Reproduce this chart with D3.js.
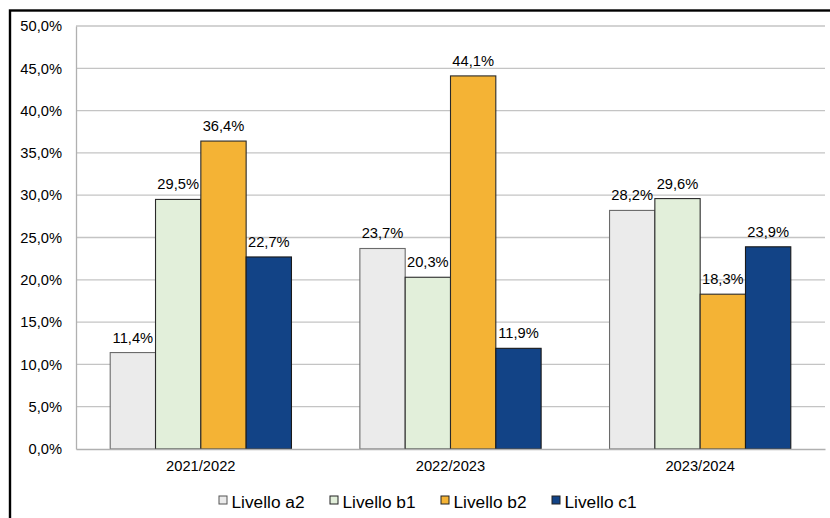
<!DOCTYPE html>
<html><head><meta charset="utf-8">
<script src="https://cdn.jsdelivr.net/npm/d3@7"></script>
<style>body{margin:0;background:#fff}svg{display:block}text{font-family:"Liberation Sans",Arial,sans-serif;fill:#000}</style>
</head><body>
<svg id="c" width="830" height="518"></svg>
<script>
const categories = ["2021/2022", "2022/2023", "2023/2024"];
const seriesNames = ["Livello a2", "Livello b1", "Livello b2", "Livello c1"];
const livelloA2 = [11.4, 23.7, 28.2];
const livelloB1 = [29.5, 20.3, 29.6];
const livelloB2 = [36.4, 44.1, 18.3];
const livelloC1 = [22.7, 11.9, 23.9];
const yTicks = [0, 5, 10, 15, 20, 25, 30, 35, 40, 45, 50];
const colors = ["#ebebeb", "#e2efda", "#f4b335", "#124386"];
const strokes = ["#6b6b6b", "#2a2a2a", "#2a2a2a", "#1a1a1a"];

const seriesValues = [livelloA2, livelloB1, livelloB2, livelloC1];
const fmt = v => v.toFixed(1).replace(".", ",") + "%";

const svg = d3.select("#c");
const L = 76, R = 825, T = 26, B = 449;

// outer frame
svg.append("rect").attr("x", 10).attr("y", 10.5).attr("width", 1000).attr("height", 1000)
  .attr("fill", "none").attr("stroke", "#000").attr("stroke-width", 2.4);

const x0 = d3.scaleBand().domain(categories).range([L, R]).paddingInner(0.274).paddingOuter(0.137);
const x1 = d3.scaleBand().domain(seriesNames).range([0, x0.bandwidth()]);
const y = d3.scaleLinear().domain([0, 50]).range([B, T]);

// gridlines
svg.append("g").selectAll("line").data(yTicks.filter(t => t > 0)).join("line")
  .attr("x1", L).attr("x2", R).attr("y1", d => y(d)).attr("y2", d => y(d))
  .attr("stroke", "#c4c4c4").attr("stroke-width", 1.3);

// y axis
const yAxis = d3.axisLeft(y).tickValues(yTicks).tickSize(0).tickPadding(14)
  .tickFormat(d => d.toFixed(1).replace(".", ",") + "%");
const ya = svg.append("g").attr("transform", `translate(${L},0)`).call(yAxis);
ya.select(".domain").attr("stroke", "#b0b0b0").attr("stroke-width", 1.3);
ya.selectAll("text").style("font-size", "14.7px").attr("font-family", null);

// bars
const groups = svg.append("g").selectAll("g").data(categories).join("g")
  .attr("transform", d => `translate(${x0(d)},0)`);
groups.selectAll("rect").data((c, i) => seriesNames.map((s, j) => ({s, j, v: seriesValues[j][i]})))
  .join("rect")
  .attr("x", d => x1(d.s)).attr("width", x1.bandwidth())
  .attr("y", d => y(d.v)).attr("height", d => B - y(d.v))
  .attr("fill", d => colors[d.j]).attr("stroke", d => strokes[d.j]).attr("stroke-width", 1.1);
groups.selectAll("text").data((c, i) => seriesNames.map((s, j) => ({s, j, v: seriesValues[j][i]})))
  .join("text")
  .attr("x", d => x1(d.s) + x1.bandwidth() / 2).attr("y", d => y(d.v) - 10)
  .attr("text-anchor", "middle").style("font-size", "14.7px").text(d => fmt(d.v));

// x axis
const xAxis = d3.axisBottom(x0).tickSize(0).tickPadding(12);
const xa = svg.append("g").attr("transform", `translate(0,${B})`).call(xAxis);
xa.select(".domain").attr("stroke", "#b0b0b0").attr("stroke-width", 1.3);
xa.selectAll("text").style("font-size", "14.7px").attr("font-family", null);

// legend
const legX = d3.scalePoint().domain(seriesNames).range([219, 552]);
const leg = svg.append("g").selectAll("g").data(seriesNames).join("g")
  .attr("transform", d => `translate(${legX(d)},496)`);
leg.append("rect").attr("width", 8).attr("height", 8)
  .attr("fill", (d, i) => colors[i]).attr("stroke", (d, i) => i === 0 ? "#555" : "#222").attr("stroke-width", 1);
leg.append("text").attr("x", 12.5).attr("y", 12).style("font-size", "17.3px").text(d => d);
</script>
</body></html>
